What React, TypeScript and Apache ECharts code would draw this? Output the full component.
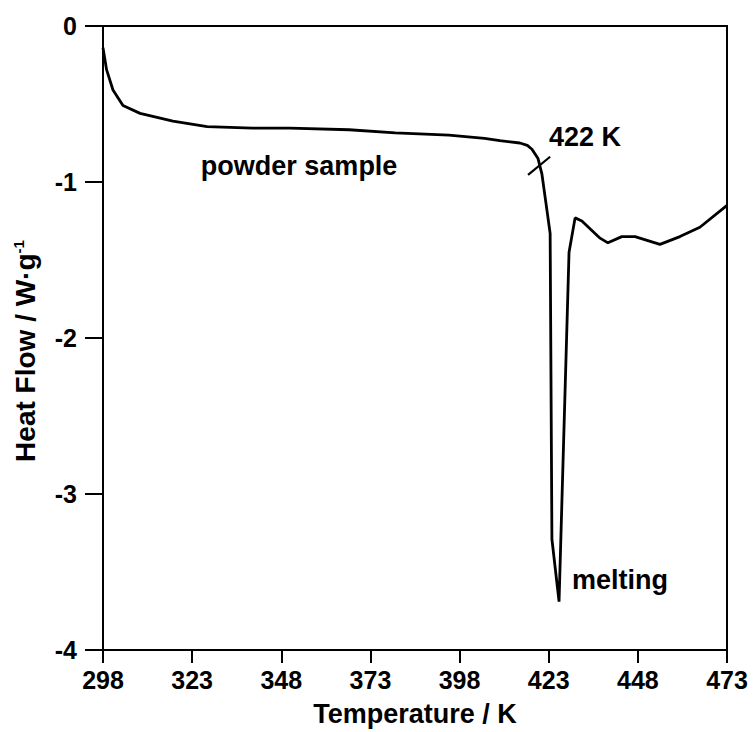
import React, { useEffect, useRef } from "react";
import * as echarts from "echarts";

const T0 = 298;
const xTickLabels = [298, 323, 348, 373, 398, 423, 448, 473];
const yTicks = [0, -1, -2, -3, -4];

const temperatures = [
  298, 299, 300.8, 303.6, 308.4, 317.6, 327.2, 340, 350.4, 367, 380, 395, 405,
  409.3, 414.9, 417, 418.3, 420, 421.1, 422.5, 423.4, 423.9, 425.9, 428.7,
  430.4, 432.3, 437.4, 439.6, 443.5, 447.2, 454.2, 459.8, 465.4, 473,
];
const heatFlow = [
  -0.14, -0.28, -0.41, -0.51, -0.56, -0.61, -0.645, -0.655, -0.655, -0.665,
  -0.685, -0.7, -0.72, -0.735, -0.75, -0.765, -0.79, -0.85, -0.95, -1.18,
  -1.33, -3.29, -3.69, -1.45, -1.23, -1.25, -1.36, -1.39, -1.35, -1.35, -1.4,
  -1.35, -1.29, -1.15,
];

const markerT = [417.2, 423.4];
const markerY = [-0.954, -0.838];

const annotationTexts = ["powder sample", "422 K", "melting"];
const annotationT = [353.0, 433.2, 443.0];
const annotationY = [-0.896, -0.71, -3.55];

const FONT = "'Liberation Sans', Arial, Helvetica, sans-serif";

export default function App() {
  const ref = useRef<HTMLDivElement>(null);
  useEffect(() => {
    if (!ref.current) return;
    const chart = echarts.init(ref.current, null, { renderer: "svg" });
    const curve = temperatures.map((t, i) => [t - T0, heatFlow[i]]);
    const marker = markerT.map((t, i) => [t - T0, markerY[i]]);
    const ann = annotationTexts.map((s, i) => ({
      value: [annotationT[i] - T0, annotationY[i]],
      name: s,
    }));
    chart.setOption({
      animation: false,
      backgroundColor: "#fff",
      grid: {
        left: 103,
        right: 26,
        top: 26,
        bottom: 81,
        show: true,
        borderColor: "#000",
        borderWidth: 2,
        containLabel: false,
      },
      xAxis: {
        type: "value",
        min: 0,
        max: xTickLabels[xTickLabels.length - 1] - T0,
        interval: 25,
        name: "Temperature / K",
        nameLocation: "middle",
        nameGap: 50,
        nameTextStyle: {
          fontFamily: FONT,
          fontWeight: "bold",
          fontSize: 27,
          color: "#000",
        },
        axisLine: { show: true, onZero: false, lineStyle: { color: "#000", width: 2 } },
        axisTick: { show: true, inside: false, length: 13, lineStyle: { color: "#000", width: 2 } },
        axisLabel: {
          margin: 17,
          fontFamily: FONT,
          fontWeight: "bold",
          fontSize: 25,
          color: "#000",
          formatter: (v: number) => String(Math.round(v + T0)),
        },
        splitLine: { show: false },
      },
      yAxis: {
        type: "value",
        min: yTicks[yTicks.length - 1],
        max: yTicks[0],
        interval: 1,
        name: "{m|Heat Flow / W·g}{s|-1}",
        nameLocation: "middle",
        nameGap: 64,
        nameRotate: 90,
        nameTextStyle: {
          padding: [0, 26, 0, 0],
          rich: {
            m: {
              fontFamily: FONT,
              fontWeight: "bold",
              fontSize: 28,
              color: "#000",
            },
            s: {
              fontFamily: FONT,
              fontWeight: "bold",
              fontSize: 15,
              color: "#000",
              verticalAlign: "top",
              padding: [0, 0, 12, 0],
            },
          },
        },
        axisLine: { show: true, onZero: false, lineStyle: { color: "#000", width: 2 } },
        axisTick: { show: true, inside: false, length: 18, lineStyle: { color: "#000", width: 2 } },
        axisLabel: {
          margin: 26,
          fontFamily: FONT,
          fontWeight: "bold",
          fontSize: 25,
          color: "#000",
        },
        splitLine: { show: false },
      },
      series: [
        {
          type: "line",
          data: curve,
          symbol: "none",
          lineStyle: { color: "#000", width: 2.8 },
        },
        {
          type: "line",
          data: marker,
          symbol: "none",
          lineStyle: { color: "#000", width: 2.2 },
        },
        {
          type: "scatter",
          data: ann,
          symbolSize: 1,
          itemStyle: { color: "#fff", opacity: 1 },
          label: {
            show: true,
            position: "inside",
            formatter: (p: any) => p.name,
            fontFamily: FONT,
            fontWeight: "bold",
            fontSize: 27,
            color: "#000",
            textBorderWidth: 0,
            textBorderColor: "transparent",
            opacity: 1,
          },
          emphasis: { disabled: true },
        },
      ],
    });
    return () => chart.dispose();
  }, []);
  return <div ref={ref} style={{ width: 753, height: 732, position: "absolute", left: 0, top: 0 }} />;
}
